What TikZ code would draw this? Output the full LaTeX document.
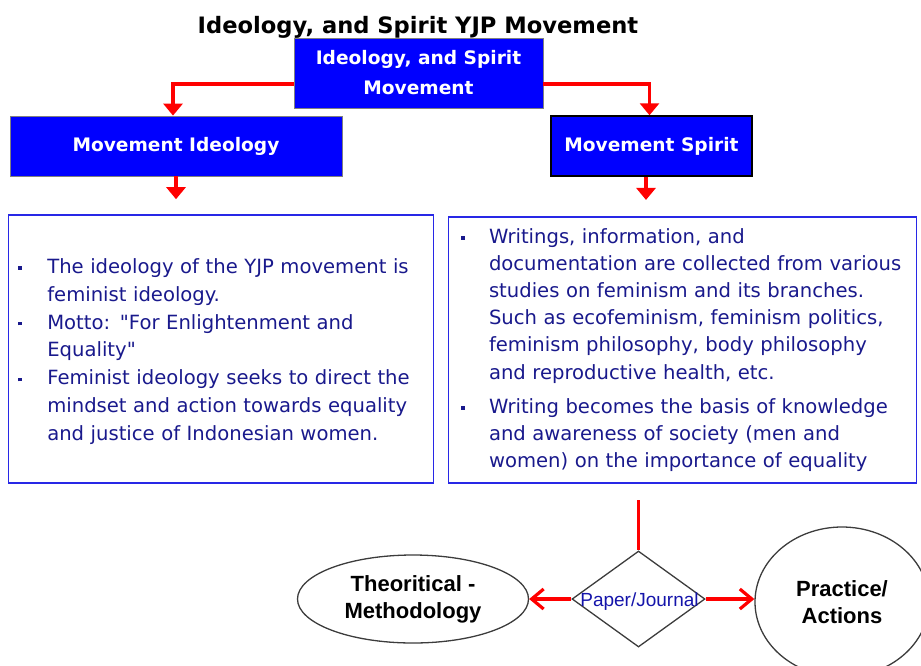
\documentclass[tikz,border=0pt]{standalone}
\usepackage{fontspec}
\usetikzlibrary{shapes.geometric,arrows.meta}
\newfontfamily\dvs{DejaVu Sans}
\newfontfamily\lib{Liberation Sans}
\definecolor{navy}{RGB}{25,25,140}
\definecolor{navyb}{RGB}{20,20,170}
\definecolor{boxblue}{RGB}{40,40,230}
\definecolor{fillblue}{RGB}{0,0,255}
\definecolor{redc}{RGB}{255,0,0}
\definecolor{edgegray}{RGB}{60,60,60}
\newcommand\bitem[2]{\noindent\hspace*{-#1}\makebox[#1][l]{\raisebox{3.6pt}{\rule{3.5pt}{3.5pt}}}#2\par}
\tikzset{
  titletext/.style={font=\dvs\bfseries\fontsize{22.6}{27}\selectfont, text=black, inner sep=0pt},
  bluebox/.style={draw=gray, line width=0.8pt, fill=fillblue, text=white, align=center, inner sep=0pt,
    font=\dvs\bfseries\fontsize{18.6}{30}\selectfont},
  textbox/.style={draw=boxblue, line width=1.6pt, text=navy, inner xsep=0pt, inner ysep=0pt, align=left,
    font=\dvs\fontsize{19.6}{27.9}\selectfont},
  redarrow/.style={draw=redc, line width=3.5pt, -{Triangle[length=12pt,width=19pt]}},
  redline/.style={draw=redc, line width=3.2pt},
  barb/.style={draw=redc, line width=3.2pt, -{Straight Barb[length=12pt,width=20pt,line width=3.2pt]}},
  bubble/.style={ellipse, draw=edgegray, line width=1.3pt, align=center, inner sep=0pt,
    font=\lib\bfseries\fontsize{22}{27}\selectfont, text=black}
}
\begin{document}
\begin{tikzpicture}[x=1pt,y=-1pt]
\useasboundingbox (0,0) rectangle (921,665);
\clip (0,0) rectangle (921,665);
\node[titletext, anchor=base] (title) at (418,33) {Ideology, and Spirit YJP Movement};
\node[bluebox, minimum width=249pt, minimum height=70pt] (top) at (418.5,73) {Ideology, and Spirit\\Movement};
\node[bluebox, minimum width=332pt, minimum height=60pt] (mi) at (176,146) {Movement Ideology};
\node[bluebox, draw=black, line width=1.5pt, minimum width=201pt, minimum height=60pt] (ms) at (651.5,146) {Movement Spirit};
\node[textbox, text width=425pt, minimum height=268pt] (tl) at (220.8,349) {\leftskip=39pt\parskip=0pt%
\bitem{29pt}{\rule{0pt}{20pt}The ideology of the YJP movement is\newline feminist ideology.}%
\bitem{29pt}{Motto: "For Enlightenment and\newline Equality"}%
\bitem{29pt}{Feminist ideology seeks to direct the\newline mindset and action towards equality\newline and justice of Indonesian women.}};
\node[textbox, text width=468pt, minimum height=266.5pt, font=\dvs\fontsize{19.6}{27.2}\selectfont] (tr) at (682.5,350) {\leftskip=40.5pt\parskip=7pt%
\bitem{28pt}{Writings, information, and\newline documentation are collected from various\newline studies on feminism and its branches.\newline Such as ecofeminism, feminism politics,\newline feminism philosophy, body philosophy\newline and reproductive health, etc.}%
\bitem{28pt}{Writing becomes the basis of knowledge\newline and awareness of society (men and\newline women) on the importance of equality}};
\draw[redarrow] ([yshift=-11pt]top.west) -| ([xshift=-3pt]mi.north);
\draw[redarrow] ([yshift=-11pt]top.east) -| ([xshift=-2pt]ms.north);
\draw[redarrow, shorten >=15pt] (mi.south) -- (mi.south |- tl.north);
\draw[redarrow, shorten >=16pt] ([xshift=-5.5pt]ms.south) -- ([xshift=-5.5pt]ms.south |- tr.north);
\coordinate (feed) at (638.5,500);
\node[diamond, draw=edgegray, line width=1.3pt, minimum width=133pt, minimum height=96pt, inner sep=0pt] (dia) at (638.5,599) {};
\node[bubble, minimum width=231pt, minimum height=88pt] (theo) at (413,599) {Theoritical -\\Methodology};
\node[bubble, minimum width=174pt, minimum height=150pt] (prac) at (842,602) {Practice/\\Actions};
\draw[redline] (feed) -- (dia.north);
\draw[barb] (dia.west) -- (theo.east);
\draw[barb] (dia.east) -- (dia.east -| prac.west);
\node[font=\lib\fontsize{19}{22}\selectfont, text=navyb, inner sep=0pt] (pj) at (639.5,602) {Paper/Journal};
\end{tikzpicture}
\end{document}
